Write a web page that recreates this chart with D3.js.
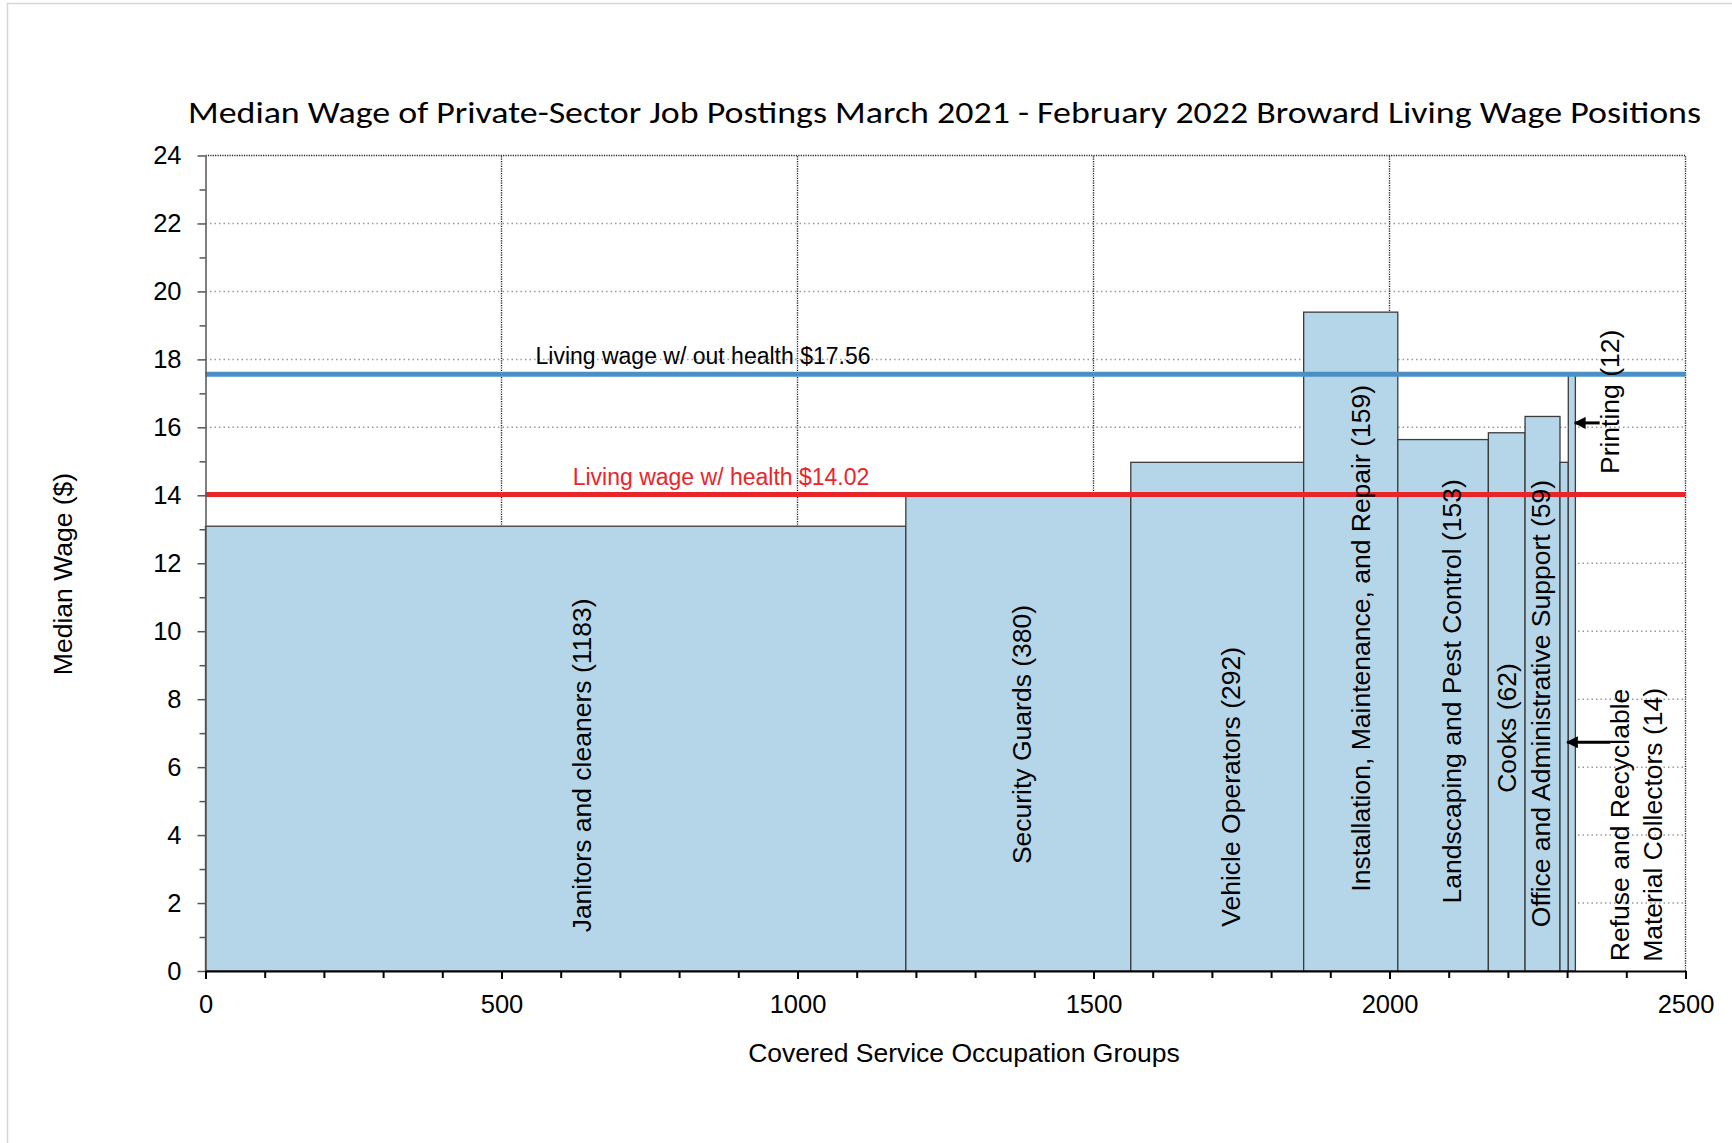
<!DOCTYPE html>
<html>
<head>
<meta charset="utf-8">
<script src="https://cdn.jsdelivr.net/npm/d3@7"></script>
<style>
  body { margin: 0; background: #fff; }
  text { font-family: "Liberation Sans", Arial, sans-serif; fill: #000; }
</style>
</head>
<body>
<script>
// chart data
const categories = ["Janitors and cleaners", "Security Guards", "Vehicle Operators",
  "Installation, Maintenance, and Repair", "Landscaping and Pest Control", "Cooks",
  "Office and Administrative Support", "Refuse and Recyclable Material Collectors", "Printing"]
const postings = [1183, 380, 292, 159, 153, 62, 59, 14, 12]
const medianWage = [13.09, 13.98, 14.97, 19.39, 15.64, 15.84, 16.32, 14.97, 17.6]
const livingWageNoHealth = 17.56
const livingWageHealth = 14.02
const yTicks = [0, 2, 4, 6, 8, 10, 12, 14, 16, 18, 20, 22, 24]
const xTicks = [0, 500, 1000, 1500, 2000, 2500]

// where the rotated labels sit, in data units (x = postings, y = wage)
const labelSpots = [[636, 6.05], [1379, 6.96], [1733, 5.42], [1952, 9.79], [2105, 8.23],
  [2198, 7.15], [2256, 7.87], [2418, 4.3], [2373, 16.75]]
// arrows: [tail x, tip x, y] in data units
const arrows = [[2355, 2313, 16.13], [2373, 2300, 6.73]]

const width = 1732
const height = 1143
const mLeft = 205.5, mTop = 155.5
const plotW = 1480, plotH = 815.5

const svg = d3.select("body").append("svg")
  .attr("width", width)
  .attr("height", height)

// faint frame of the original image
svg.append("rect")
  .attr("x", 7.5).attr("y", 3.5)
  .attr("width", width + 20).attr("height", height + 20)
  .attr("fill", "none").attr("stroke", "#d6d6d6").attr("stroke-width", 1.5)

const x = d3.scaleLinear().domain([0, 2500]).range([mLeft, mLeft + plotW])
const y = d3.scaleLinear().domain([0, 24]).range([mTop + plotH, mTop])

// build the bars: each starts where the last one ended
let run = 0
const bars = categories.map((c, i) => {
  const b = { name: c, n: postings[i], wage: medianWage[i], x0: run, x1: run + postings[i] }
  run += postings[i]
  return b
})

// grid lines behind everything
svg.append("g").selectAll("line")
  .data(yTicks.filter(d => d > 0 && d < 24))
  .enter().append("line")
  .attr("x1", x(0)).attr("x2", x(2500))
  .attr("y1", d => y(d)).attr("y2", d => y(d))
  .attr("stroke", "#9a9a9a").attr("stroke-width", 1.5)
  .attr("stroke-dasharray", "1.5,3")

svg.append("g").selectAll("line")
  .data(xTicks.filter(d => d > 0))
  .enter().append("line")
  .attr("x1", d => x(d)).attr("x2", d => x(d))
  .attr("y1", y(0)).attr("y2", y(24))
  .attr("stroke", "#222").attr("stroke-width", 1.4)
  .attr("stroke-dasharray", "1.2,1.2")

svg.append("line")
  .attr("x1", x(0)).attr("x2", x(2500))
  .attr("y1", y(24)).attr("y2", y(24))
  .attr("stroke", "#222").attr("stroke-width", 1.4)
  .attr("stroke-dasharray", "1.2,1.2")

// bars
svg.append("g").selectAll("rect")
  .data(bars)
  .enter().append("rect")
  .attr("x", d => x(d.x0))
  .attr("y", d => y(d.wage))
  .attr("width", d => x(d.x1) - x(d.x0))
  .attr("height", d => y(0) - y(d.wage))
  .attr("fill", "#b5d6e8")
  .attr("stroke", "#3c3c3c")
  .attr("stroke-width", 1.3)

// living wage lines
svg.append("line")
  .attr("x1", x(0)).attr("x2", x(2500))
  .attr("y1", y(livingWageNoHealth)).attr("y2", y(livingWageNoHealth))
  .attr("stroke", "#4a90c4").attr("stroke-width", 5)
svg.append("line")
  .attr("x1", x(0)).attr("x2", x(2500))
  .attr("y1", y(livingWageHealth)).attr("y2", y(livingWageHealth))
  .attr("stroke", "#e8262a").attr("stroke-width", 5)

svg.append("text")
  .attr("x", 703).attr("y", y(livingWageNoHealth) - 10)
  .attr("text-anchor", "middle")
  .style("font-size", "23px")
  .text("Living wage w/ out health $" + livingWageNoHealth.toFixed(2))
svg.append("text")
  .attr("x", 721).attr("y", y(livingWageHealth) - 10)
  .attr("text-anchor", "middle")
  .style("font-size", "23px")
  .style("fill", "#e8262a")
  .text("Living wage w/ health $" + livingWageHealth.toFixed(2))

// axes
const yAxis = svg.append("g")
  .attr("transform", `translate(${mLeft},0)`)
  .call(d3.axisLeft(y).tickValues(yTicks).tickSize(8).tickPadding(16).tickSizeOuter(0))
yAxis.select(".domain").attr("stroke", "#555").attr("stroke-width", 1.5)
yAxis.selectAll(".tick line").attr("stroke", "#555").attr("stroke-width", 1.5)
yAxis.selectAll("text").style("font-size", "25.5px").style("font-family", "Liberation Sans, Arial, sans-serif")
svg.append("g")
  .attr("transform", `translate(${mLeft},0)`)
  .call(d3.axisLeft(y).tickValues(d3.range(1, 24, 2)).tickSize(6).tickFormat(""))
  .call(g => g.select(".domain").remove())
  .selectAll("line").attr("stroke", "#555").attr("stroke-width", 1.5)

const xAxis = svg.append("g")
  .attr("transform", `translate(0,${mTop + plotH})`)
  .call(d3.axisBottom(x).tickValues(xTicks).tickFormat(d3.format("d"))
    .tickSize(8).tickPadding(16).tickSizeOuter(0))
xAxis.select(".domain").attr("stroke", "#000").attr("stroke-width", 2)
xAxis.selectAll(".tick line").attr("stroke", "#000").attr("stroke-width", 2)
xAxis.selectAll("text").style("font-size", "25.5px").style("font-family", "Liberation Sans, Arial, sans-serif")
svg.append("g")
  .attr("transform", `translate(0,${mTop + plotH})`)
  .call(d3.axisBottom(x).tickValues(d3.range(100, 2500, 100).filter(d => d % 500)).tickSize(7).tickFormat(""))
  .call(g => g.select(".domain").remove())
  .selectAll("line").attr("stroke", "#000").attr("stroke-width", 2)

// bar labels, rotated
bars.forEach((b, i) => {
  const [lx, ly] = labelSpots[i]
  const g = svg.append("g").attr("transform", `translate(${x(lx)},${y(ly)}) rotate(-90)`)
  const label = b.name + " (" + b.n + ")"
  if (i === 7) {
    // two-line label
    g.append("text").attr("y", -16.5).attr("text-anchor", "middle")
      .attr("dominant-baseline", "central").style("font-size", "26.5px")
      .text("Refuse and Recyclable")
    g.append("text").attr("y", 16.5).attr("text-anchor", "middle")
      .attr("dominant-baseline", "central").style("font-size", "26.5px")
      .text("Material Collectors (" + b.n + ")")
  } else {
    g.append("text").attr("text-anchor", "middle")
      .attr("dominant-baseline", "central").style("font-size", "26.5px")
      .text(label)
  }
})

// arrows
svg.append("defs").append("marker")
  .attr("id", "head")
  .attr("viewBox", "0 0 10 10")
  .attr("refX", 9).attr("refY", 5)
  .attr("markerWidth", 4).attr("markerHeight", 4)
  .attr("orient", "auto")
  .append("path").attr("d", "M0,0 L10,5 L0,10 Z").attr("fill", "#000")
svg.append("g").selectAll("line")
  .data(arrows)
  .enter().append("line")
  .attr("x1", d => x(d[0])).attr("x2", d => x(d[1]))
  .attr("y1", d => y(d[2])).attr("y2", d => y(d[2]))
  .attr("stroke", "#000").attr("stroke-width", 3)
  .attr("marker-end", "url(#head)")

// titles
svg.append("text")
  .attr("x", 944.5).attr("y", 123)
  .attr("text-anchor", "middle")
  .attr("textLength", 1513).attr("lengthAdjust", "spacingAndGlyphs")
  .style("font-family", "Carlito, Calibri, Lato, sans-serif")
  .style("font-size", "31px")
  .text("Median Wage of Private-Sector Job Postings March 2021 - February 2022 Broward Living Wage Positions")

svg.append("text")
  .attr("x", 964).attr("y", 1062)
  .attr("text-anchor", "middle")
  .style("font-size", "26.5px")
  .text("Covered Service Occupation Groups")

svg.append("text")
  .attr("transform", "translate(63,574) rotate(-90)")
  .attr("text-anchor", "middle")
  .attr("dominant-baseline", "central")
  .style("font-size", "26.5px")
  .text("Median Wage ($)")
</script>
</body>
</html>
